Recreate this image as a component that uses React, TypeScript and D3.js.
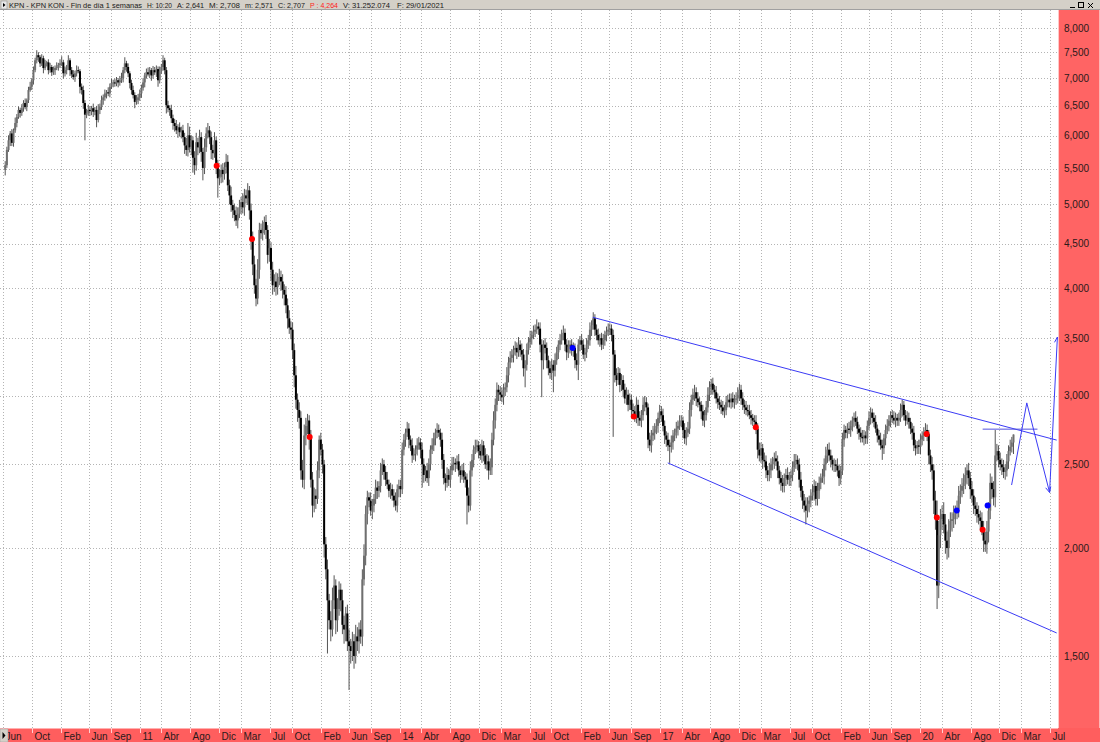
import React from 'react';
import * as d3 from 'd3';

// ---------- DATA (weekly Friday closes, by calendar year) ----------
const yearStarts = ['2009-06-12', '2010-01-01', '2011-01-07', '2012-01-06', '2013-01-04', '2014-01-03', '2015-01-02', '2016-01-01', '2017-01-06', '2018-01-05', '2019-01-04', '2020-01-03', '2021-01-01'];
const firstOpen = 5.48;
const closes2009 = [5.55,5.78,5.93,6.04,5.89,6.09,6.21,6.31,6.43,6.38,6.46,6.55,6.48,6.60,6.78,6.84,6.96,7.15,7.34,7.44,7.40,7.28,7.38,7.19,7.28,7.30,7.15,7.21,7.11];
const closes2010 = [7.15,7.19,7.21,7.25,7.28,7.30,7.09,7.15,7.19,7.34,7.15,7.07,7.02,7.09,7.15,7.13,6.84,6.78,6.55,6.35,6.38,6.43,6.41,6.46,6.40,6.43,6.26,6.43,6.48,6.60,6.65,6.72,6.74,6.72,6.84,6.91,6.92,6.90,6.96,6.92,6.96,7.00,7.15,7.28,7.21,7.09,6.91,6.78,6.69,6.57,6.60,6.65,6.72];
const closes2011 = [6.82,6.92,7.05,7.11,7.07,7.15,7.05,7.15,7.11,7.17,6.96,7.13,7.21,7.34,7.15,6.51,6.46,6.43,6.29,6.21,6.16,6.09,6.14,6.06,6.09,5.98,5.85,5.78,6.01,5.82,5.93,5.66,5.55,5.90,5.82,5.98,5.75,5.51,5.82,6.04,6.09,5.98,5.78,5.73,5.93,5.54,5.36,5.38,5.48,5.42,5.52,5.60];
const closes2012 = [5.26,5.12,4.99,4.92,4.86,4.79,4.88,4.96,5.03,4.96,5.12,5.08,5.19,4.92,4.57,4.26,4.03,3.89,4.20,4.67,4.63,4.69,4.77,4.67,4.37,4.45,4.20,4.03,4.07,4.01,4.10,4.12,4.07,3.98,3.93,3.82,3.69,3.60,3.58,3.39,3.17,2.97,2.89,2.83,2.46,2.40,2.70,2.77,2.81,2.68,2.40,2.24];
const closes2013 = [2.30,2.28,2.46,2.67,2.60,2.50,2.02,1.89,1.74,1.65,1.61,1.74,1.81,1.65,1.70,1.79,1.74,1.63,1.61,1.68,1.56,1.54,1.52,1.56,1.50,1.58,1.56,1.61,1.58,1.84,1.96,2.19,2.29,2.27,2.21,2.24,2.28,2.35,2.33,2.36,2.46,2.50,2.45,2.40,2.37,2.33,2.34,2.30,2.27,2.24,2.34,2.36];
const closes2014 = [2.34,2.60,2.67,2.72,2.75,2.67,2.63,2.56,2.57,2.60,2.63,2.65,2.60,2.50,2.43,2.46,2.41,2.50,2.60,2.63,2.68,2.72,2.74,2.72,2.67,2.53,2.41,2.38,2.43,2.40,2.46,2.50,2.51,2.50,2.52,2.46,2.43,2.46,2.42,2.40,2.30,2.24,2.46,2.53,2.60,2.62,2.63,2.59,2.56,2.63,2.56,2.50];
const closes2015 = [2.52,2.46,2.48,2.67,2.81,2.93,3.05,3.03,3.01,2.99,3.05,3.07,3.17,3.28,3.32,3.35,3.39,3.41,3.37,3.44,3.39,3.35,3.23,3.26,3.39,3.46,3.50,3.53,3.56,3.58,3.61,3.59,3.44,3.30,3.44,3.41,3.30,3.23,3.19,3.26,3.21,3.30,3.37,3.44,3.48,3.53,3.55,3.44,3.37,3.42,3.44,3.39];
const closes2016 = [3.41,3.30,3.26,3.44,3.48,3.44,3.35,3.37,3.44,3.48,3.58,3.62,3.69,3.58,3.53,3.48,3.50,3.44,3.48,3.53,3.56,3.58,3.59,3.53,3.35,3.17,3.13,3.19,3.09,3.13,3.05,2.98,3.01,2.93,2.97,2.89,2.88,2.84,2.93,2.83,2.81,2.85,2.93,2.95,2.91,2.67,2.63,2.70,2.72,2.75,2.77,2.83,2.88];
const closes2017 = [2.85,2.77,2.70,2.67,2.63,2.62,2.65,2.70,2.72,2.75,2.77,2.80,2.81,2.74,2.68,2.72,2.75,2.89,2.97,3.01,3.03,2.98,2.95,2.93,2.88,2.81,2.85,2.91,3.01,3.07,3.10,3.05,3.03,2.98,2.95,2.93,2.91,2.88,2.89,2.95,2.97,2.95,2.98,2.95,2.97,2.98,3.01,3.05,2.98,2.93,2.91,2.89];
const closes2018 = [2.88,2.85,2.83,2.81,2.80,2.75,2.60,2.56,2.61,2.53,2.52,2.46,2.43,2.46,2.50,2.52,2.54,2.52,2.46,2.41,2.38,2.36,2.41,2.43,2.40,2.41,2.43,2.48,2.52,2.53,2.50,2.40,2.33,2.27,2.24,2.21,2.25,2.27,2.30,2.32,2.36,2.28,2.33,2.38,2.41,2.42,2.50,2.56,2.60,2.56,2.53,2.50];
const closes2019 = [2.50,2.49,2.46,2.41,2.46,2.67,2.74,2.72,2.75,2.74,2.77,2.81,2.83,2.80,2.75,2.72,2.69,2.68,2.70,2.68,2.77,2.83,2.87,2.83,2.80,2.75,2.70,2.67,2.63,2.61,2.68,2.74,2.77,2.81,2.85,2.83,2.81,2.83,2.81,2.83,2.89,2.93,2.85,2.81,2.83,2.80,2.75,2.72,2.63,2.61,2.63,2.62];
const closes2020 = [2.67,2.70,2.72,2.74,2.71,2.56,2.50,2.46,2.27,2.17,1.81,2.07,2.16,2.19,2.13,2.04,2.00,2.10,2.15,2.16,2.19,2.20,2.22,2.30,2.33,2.36,2.38,2.43,2.46,2.41,2.34,2.30,2.24,2.22,2.19,2.17,2.15,2.11,2.04,2.02,2.09,2.21,2.38,2.34,2.29,2.56,2.59,2.53,2.50,2.48,2.45,2.46];
const closes2021 = [2.52,2.59,2.62,2.65,2.707];
const yearCloses = [closes2009, closes2010, closes2011, closes2012, closes2013, closes2014, closes2015, closes2016, closes2017, closes2018, closes2019, closes2020, closes2021];

// weekly wick extensions beyond the body, in cents: [above, below]
const wicks2009 = [[6,8],[5,4],[8,3],[4,9],[7,5],[3,6],[9,4],[5,7],[6,3],[4,8],[7,5],[5,6],[8,4],[3,7],[6,5],[9,3],[4,6],[7,8],[5,4],[10,6],[6,9],[4,7],[8,5],[5,10],[7,4],[3,6],[6,8],[8,5],[4,7]];
const wicks2010 = [[7,5],[5,9],[9,4],[4,7],[8,6],[12,5],[5,10],[7,6],[6,8],[10,4],[4,11],[6,7],[8,5],[5,9],[9,6],[7,4],[4,12],[6,8],[8,10],[5,14],[7,6],[9,5],[6,8],[4,7],[8,9],[5,6],[7,12],[10,4],[6,7],[8,5],[5,8],[7,6],[4,9],[9,5],[6,7],[8,4],[5,8],[7,6],[6,5],[4,9],[8,6],[10,5],[6,8],[12,6],[5,9],[7,7],[4,10],[6,8],[8,6],[5,11],[9,5],[6,7],[7,6]];
const wicks2011 = [[6,8],[8,5],[5,9],[7,6],[9,4],[6,7],[4,10],[8,6],[6,5],[7,9],[5,12],[9,6],[6,5],[10,7],[5,8],[6,14],[8,7],[5,10],[9,8],[6,11],[7,9],[10,6],[5,12],[8,7],[6,10],[9,8],[7,13],[12,9],[6,10],[14,8],[8,12],[6,16],[10,14],[15,8],[7,12],[12,9],[8,15],[6,18],[14,9],[10,7],[12,8],[7,11],[9,14],[8,10],[13,7],[6,12],[9,15],[11,10],[8,9],[10,12],[7,8],[12,9]];
const wicks2012 = [[10,8],[8,12],[12,9],[7,10],[9,8],[11,7],[8,10],[10,6],[7,9],[12,8],[9,11],[8,7],[10,9],[6,12],[9,14],[8,12],[10,9],[7,8],[12,6],[9,10],[8,7],[10,9],[7,8],[9,11],[6,10],[11,8],[7,12],[9,10],[8,7],[10,9],[6,8],[9,7],[7,10],[8,9],[6,11],[9,8],[7,10],[8,6],[6,9],[7,8],[6,10],[8,7],[5,9],[6,8],[5,6],[7,5],[8,6],[6,7],[5,6],[4,8],[6,5],[5,7]];
const wicks2013 = [[5,4],[4,6],[6,3],[3,5],[5,4],[4,6],[3,7],[4,5],[5,6],[3,4],[4,5],[6,3],[5,4],[3,6],[5,5],[4,3],[3,5],[5,4],[4,6],[3,5],[4,4],[5,3],[3,5],[4,4],[3,5],[5,3],[4,4],[3,5],[4,3],[5,4],[6,3],[5,5],[4,6],[3,4],[5,3],[4,5],[3,4],[5,3],[4,5],[3,4],[5,4],[4,3],[3,5],[4,4],[5,3],[3,4],[4,5],[3,3],[4,4],[5,3],[3,4],[4,5]];
const wicks2014 = [[4,5],[5,3],[4,4],[3,5],[5,3],[4,6],[3,4],[5,5],[4,3],[3,5],[5,4],[4,3],[3,6],[5,4],[4,5],[3,4],[5,3],[4,5],[3,4],[5,3],[4,4],[3,5],[5,4],[4,3],[3,5],[5,6],[4,4],[3,5],[5,3],[4,4],[3,5],[5,3],[4,4],[3,5],[4,3],[5,4],[3,5],[4,3],[5,4],[3,5],[4,6],[5,4],[6,3],[4,4],[3,5],[5,3],[4,4],[3,5],[5,3],[4,5],[3,4],[5,3]];
const wicks2015 = [[5,4],[4,6],[6,3],[5,5],[7,4],[5,6],[6,5],[4,7],[5,5],[6,4],[5,6],[4,5],[7,4],[5,6],[6,5],[5,4],[4,7],[6,5],[5,6],[7,4],[4,6],[6,5],[5,7],[4,8],[6,5],[5,4],[7,5],[4,6],[6,4],[5,5],[7,4],[4,6],[6,7],[5,6],[4,8],[6,5],[5,7],[4,6],[6,5],[5,6],[4,7],[6,5],[5,4],[4,6],[6,5],[5,4],[7,5],[4,6],[5,7],[6,5],[4,6],[5,5]];
const wicks2016 = [[5,6],[4,7],[6,5],[5,4],[4,6],[6,5],[5,4],[4,6],[6,5],[5,4],[7,5],[5,6],[6,4],[4,6],[5,5],[6,4],[4,6],[5,5],[6,4],[4,5],[5,6],[6,4],[5,5],[4,6],[5,7],[4,6],[6,5],[5,4],[4,6],[5,5],[4,6],[5,4],[6,5],[4,5],[5,4],[4,6],[5,5],[4,4],[6,5],[4,6],[5,4],[4,5],[6,4],[5,5],[4,6],[3,6],[5,4],[4,5],[5,4],[4,5],[5,4],[4,5],[5,4]];
const wicks2017 = [[4,5],[5,4],[4,6],[3,5],[5,4],[4,6],[5,4],[4,5],[3,4],[5,4],[4,5],[5,3],[4,4],[3,6],[5,4],[4,5],[5,3],[6,4],[4,5],[5,4],[6,5],[4,6],[5,4],[4,5],[3,6],[5,4],[4,5],[5,4],[6,4],[5,5],[4,6],[5,4],[4,5],[5,4],[4,5],[5,4],[4,5],[5,3],[4,5],[5,4],[4,4],[5,4],[4,5],[5,4],[4,5],[5,4],[6,4],[5,5],[4,5],[5,4],[4,5],[5,4]];
const wicks2018 = [[4,4],[5,3],[4,5],[3,4],[4,5],[5,4],[4,6],[5,4],[4,5],[3,6],[5,4],[4,5],[3,4],[5,4],[4,5],[3,4],[4,5],[5,3],[4,5],[3,4],[4,5],[5,4],[3,4],[4,5],[5,3],[4,4],[3,5],[4,4],[5,3],[4,5],[3,4],[4,5],[5,4],[3,5],[4,4],[5,6],[4,4],[3,5],[4,4],[5,3],[4,5],[3,4],[5,4],[4,5],[3,4],[5,3],[4,5],[6,4],[4,5],[5,4],[4,5],[3,4]];
const wicks2019 = [[4,5],[3,4],[5,4],[4,5],[3,4],[5,3],[4,5],[3,4],[4,4],[5,3],[4,5],[3,4],[4,5],[5,3],[4,4],[3,5],[4,4],[5,3],[4,5],[3,4],[4,4],[5,3],[4,5],[3,4],[4,4],[5,3],[3,5],[4,4],[5,3],[4,6],[3,4],[4,5],[5,3],[4,4],[3,5],[4,4],[5,3],[4,5],[3,4],[4,4],[5,3],[4,5],[3,4],[4,4],[5,3],[4,5],[3,4],[4,5],[5,4],[4,5],[3,4],[4,5]];
const wicks2020 = [[4,5],[3,4],[4,4],[5,3],[4,5],[3,6],[4,5],[5,6],[4,8],[6,7],[10,6],[8,6],[6,7],[5,6],[7,5],[6,4],[5,6],[6,5],[5,4],[4,6],[5,5],[4,6],[5,4],[6,5],[4,5],[5,4],[6,5],[5,4],[4,6],[5,5],[4,6],[5,4],[4,5],[5,4],[4,5],[5,4],[4,5],[5,4],[4,6],[5,4],[6,5],[5,6],[6,5],[4,6],[5,5],[4,6],[5,4],[4,5],[5,4],[4,5],[5,4],[4,5]];
const wicks2021 = [[5,4],[4,5],[5,3],[4,4],[0,8]];
const yearWicks = [wicks2009, wicks2010, wicks2011, wicks2012, wicks2013, wicks2014, wicks2015, wicks2016, wicks2017, wicks2018, wicks2019, wicks2020, wicks2021];

// weeks whose range reached clearly further
const wickLows: [string, number][] = [
  ['2010-05-14', 5.93], ['2011-08-12', 5.44], ['2011-09-23', 5.41], ['2011-11-25', 5.09],
  ['2012-05-04', 3.84], ['2013-03-01', 1.51], ['2013-05-31', 1.37], ['2014-04-04', 2.35],
  ['2014-10-10', 2.13], ['2015-06-12', 3.07], ['2015-08-21', 2.99], ['2015-10-09', 3.03],
  ['2016-01-22', 3.13], ['2016-06-17', 2.69], ['2017-02-10', 2.51], ['2018-03-09', 2.51],
  ['2018-09-07', 2.13], ['2019-07-26', 2.53], ['2020-03-13', 1.70], ['2020-04-17', 1.97],
  ['2020-10-02', 1.99],
];
const wickHighs: [string, number][] = [
  ['2011-04-08', 7.44], ['2011-07-22', 6.21], ['2012-12-14', 2.81], ['2020-11-13', 2.74],
];

// signal dots
const redDots: [string, number][] = [
  ['2011-11-20', 5.54], ['2012-04-17', 4.56], ['2012-12-16', 2.69], ['2016-09-12', 2.84],
  ['2018-02-08', 2.76], ['2020-01-29', 2.71], ['2020-03-12', 2.17], ['2020-09-21', 2.10],
];
const blueDots: [string, number][] = [
  ['2015-12-29', 3.41], ['2020-06-04', 2.21], ['2020-10-12', 2.24],
];

// drawn lines
const upperTrend: [string, number][] = [['2016-03-23', 3.70], ['2021-07-30', 2.667]];
const lowerTrend: [string, number][] = [['2017-02-02', 2.51], ['2021-07-30', 1.595]];
const resistance: [string, number][] = [['2020-09-21', 2.746], ['2021-05-10', 2.746]];
const projection: [string, number][] = [['2021-01-21', 2.366], ['2021-03-26', 2.945], ['2021-06-30', 2.32], ['2021-08-02', 3.51]];

const yTicks = [8, 7.5, 7, 6.5, 6, 5.5, 5, 4.5, 4, 3.5, 3, 2.5, 2, 1.5];
const xTicks: [string, string][] = [
  ['2009-06-01', 'Jun'], ['2009-10-01', 'Oct'], ['2010-02-01', 'Feb'], ['2010-06-01', 'Jun'], ['2010-09-01', 'Sep'],
  ['2011-01-01', '11'], ['2011-04-01', 'Abr'], ['2011-08-01', 'Ago'], ['2011-12-01', 'Dic'], ['2012-03-01', 'Mar'],
  ['2012-07-01', 'Jul'], ['2012-10-01', 'Oct'], ['2013-02-01', 'Feb'], ['2013-06-01', 'Jun'], ['2013-09-01', 'Sep'],
  ['2014-01-01', '14'], ['2014-04-01', 'Abr'], ['2014-08-01', 'Ago'], ['2014-12-01', 'Dic'], ['2015-03-01', 'Mar'],
  ['2015-07-01', 'Jul'], ['2015-10-01', 'Oct'], ['2016-02-01', 'Feb'], ['2016-06-01', 'Jun'], ['2016-09-01', 'Sep'],
  ['2017-01-01', '17'], ['2017-04-01', 'Abr'], ['2017-08-01', 'Ago'], ['2017-12-01', 'Dic'], ['2018-03-01', 'Mar'],
  ['2018-07-01', 'Jul'], ['2018-10-01', 'Oct'], ['2019-02-01', 'Feb'], ['2019-06-01', 'Jun'], ['2019-09-01', 'Sep'],
  ['2020-01-01', '20'], ['2020-04-01', 'Abr'], ['2020-08-01', 'Ago'], ['2020-12-01', 'Dic'], ['2021-03-01', 'Mar'],
  ['2021-07-01', 'Jul'],
];

// header pieces: x, width, text, red?
const headerParts: [number, number, string, boolean][] = [
  [9, 133, 'KPN - KPN KON - Fin de día 1 semanas', false], [147, 25, 'H: 10:20', false], [177, 27, 'A: 2,641', false],
  [209, 31, 'M: 2,708', false], [245, 28, 'm: 2,571', false], [278, 27, 'C: 2,707', false], [310, 28, 'P : 4,264', true],
  [343, 47, 'V: 31.252.074', false], [397, 47, 'F: 29/01/2021', false],
];

// ---------- helpers ----------
const parse = d3.utcParse('%Y-%m-%d');
const fmtDate = d3.utcFormat('%Y-%m-%d');
const locale = d3.formatLocale({ decimal: ',', thousands: '.', grouping: [3], currency: ['', ''] });
const fmtPrice = locale.format('.3f');

type Bar = { date: Date; open: number; close: number; high: number; low: number };

function buildBars(): Bar[] {
  const lows = new Map(wickLows);
  const highs = new Map(wickHighs);
  const out: Bar[] = [];
  let prev = firstOpen;
  yearCloses.forEach((arr, yi) => {
    const s = parse(yearStarts[yi]) as Date;
    const wk = yearWicks[yi];
    arr.forEach((c, i) => {
      const date = d3.utcDay.offset(s, 7 * i);
      const key = fmtDate(date);
      const open = prev;
      const [wu, wd] = wk[i] || [0, 0];
      let high = Math.max(open, c) + wu / 100;
      let low = Math.min(open, c) - wd / 100;
      if (highs.has(key)) high = Math.max(high, highs.get(key)!);
      if (lows.has(key)) low = Math.min(low, lows.get(key)!);
      out.push({ date, open, close: c, high, low });
      prev = c;
    });
  });
  return out;
}

const FONT = '"Liberation Sans", Arial, Helvetica, sans-serif';
const PL = 0, PR = 1058, PT = 10, PB = 728;

export default function App() {
  const x = d3.scaleUtc().domain([new Date(Date.UTC(2011, 0, 1)), new Date(Date.UTC(2020, 0, 1))]).range([140, 920]);
  const y = d3.scaleLog().domain([1.5, 8]).range([656, 28]);
  const bars = buildBars();
  const pt = (d: [string, number]) => [x(parse(d[0]) as Date), y(d[1])] as [number, number];
  const line = d3.line<[number, number]>();

  const proj = projection.map(pt);
  const arrowHead = (from: [number, number], to: [number, number]) => {
    const ang = Math.atan2(to[1] - from[1], to[0] - from[0]);
    const L = 6, a = 0.45;
    const p1: [number, number] = [to[0] - L * Math.cos(ang - a), to[1] - L * Math.sin(ang - a)];
    const p2: [number, number] = [to[0] - L * Math.cos(ang + a), to[1] - L * Math.sin(ang + a)];
    return line([p1, to, p2]) || '';
  };

  const blue = '#3b3bf5';

  return (
    <svg width={1100} height={742} style={{ position: 'absolute', left: 0, top: 0, display: 'block' }} fontFamily={FONT}>
      <defs>
        <clipPath id="plotClip"><rect x={PL} y={PT} width={PR - PL} height={PB - PT} /></clipPath>
      </defs>
      <rect x={0} y={0} width={1100} height={742} fill="#ffffff" />
      {/* grid */}
      <g stroke="#b4b4b4" strokeWidth={1} strokeDasharray="1,2">
        {yTicks.map(v => (
          <line key={'gy' + v} x1={PL} x2={PR} y1={Math.round(y(v)) + 0.5} y2={Math.round(y(v)) + 0.5} />
        ))}
        {xTicks.map(([d]) => {
          const xx = Math.round(x(parse(d) as Date)) + 0.5;
          return <line key={'gx' + d} x1={xx} x2={xx} y1={PT} y2={PB} />;
        })}
      </g>
      {/* candles */}
      <g clipPath="url(#plotClip)">
        {bars.map((b, i) => {
          const cx = x(b.date);
          return <line key={'w' + i} x1={cx} x2={cx} y1={y(b.high)} y2={y(b.low)} stroke="#555555" strokeWidth={1} />;
        })}
        {bars.map((b, i) => {
          const cx = x(b.date);
          const top = y(Math.max(b.open, b.close));
          const bot = y(Math.min(b.open, b.close));
          const up = b.close >= b.open;
          return <rect key={'b' + i} x={cx - 1} y={top} width={2} height={Math.max(1, bot - top)} fill={up ? '#6f6f6f' : '#000000'} />;
        })}
        {/* trend lines */}
        <path d={line(upperTrend.map(pt)) || ''} stroke={blue} strokeWidth={1} fill="none" />
        <path d={line(lowerTrend.map(pt)) || ''} stroke={blue} strokeWidth={1} fill="none" />
        <path d={line(resistance.map(pt)) || ''} stroke="#5050e0" strokeWidth={1} fill="none" />
        <path d={line(proj) || ''} stroke={blue} strokeWidth={1} fill="none" />
        <path d={arrowHead(proj[1], proj[2])} stroke={blue} strokeWidth={1} fill="none" />
        <path d={arrowHead(proj[2], proj[3])} stroke={blue} strokeWidth={1} fill="none" />
        {redDots.map((d, i) => { const [cx, cy] = pt(d); return <circle key={'r' + i} cx={cx} cy={cy} r={3} fill="#ff0000" />; })}
        {blueDots.map((d, i) => { const [cx, cy] = pt(d); return <circle key={'bl' + i} cx={cx} cy={cy} r={3} fill="#0000ff" />; })}
      </g>
      {/* right axis panel */}
      <rect x={PR} y={PT} width={1100 - PR} height={742 - PT} fill="#ff6464" />
      <line x1={PR + 0.5} x2={PR + 0.5} y1={PT} y2={PB} stroke="#ffc8c8" strokeWidth={1} />
      <line x1={1099.5} x2={1099.5} y1={PT} y2={742} stroke="#ffb4b4" strokeWidth={1} />
      {yTicks.map(v => (
        <text key={'yl' + v} x={1064} y={y(v) + 3.5} fontSize={10} fill="#2a1a1a">{fmtPrice(v)}</text>
      ))}
      {/* bottom axis band */}
      <rect x={0} y={PB} width={1100} height={742 - PB} fill="#ff5e5e" />
      <line x1={0} x2={PR} y1={PB + 0.5} y2={PB + 0.5} stroke="#ffb0b0" strokeWidth={1} />
      {xTicks.map(([d, lab]) => {
        const xx = Math.round(x(parse(d) as Date)) + 0.5;
        return (
          <g key={'xl' + d}>
            <line x1={xx} x2={xx} y1={PB} y2={PB + 5} stroke="#ffd0d0" strokeWidth={1} />
            <text x={xx + 2} y={740} fontSize={10} fill="#2a1a1a">{lab}</text>
          </g>
        );
      })}
      <rect x={0} y={PB + 1} width={8} height={13} fill="#d4d0c8" stroke="#9a9a9a" strokeWidth={0.5} />
      <path d="M2.5,732 L5.5,735.5 L2.5,739 Z" fill="#000" />
      {/* header */}
      <rect x={0} y={0} width={1100} height={PT} fill="#d4d0c8" />
      <line x1={0} x2={1100} y1={PT - 0.5} y2={PT - 0.5} stroke="#a0a0a0" strokeWidth={1} />
      <rect x={1} y={1} width={6} height={8} fill="#e8e8e8" stroke="#808080" strokeWidth={0.5} />
      <path d="M3,3 L5.5,5 L3,7 Z" fill="#000" />
      {headerParts.map(([hx, w, t, red]) => (
        <text key={t} x={hx} y={8.2} fontSize={7.8} textLength={w} lengthAdjust="spacingAndGlyphs" fill={red ? '#ff2020' : '#1a1a1a'}>{t}</text>
      ))}
      {/* window buttons */}
      <g stroke="#000" strokeWidth={1} fill="none">
        <line x1={1070} x2={1075} y1={7.5} y2={7.5} />
        <rect x={1078.5} y={2.5} width={5} height={5} />
        <path d="M1088,3 L1093,8 M1093,3 L1088,8" />
      </g>
    </svg>
  );
}
